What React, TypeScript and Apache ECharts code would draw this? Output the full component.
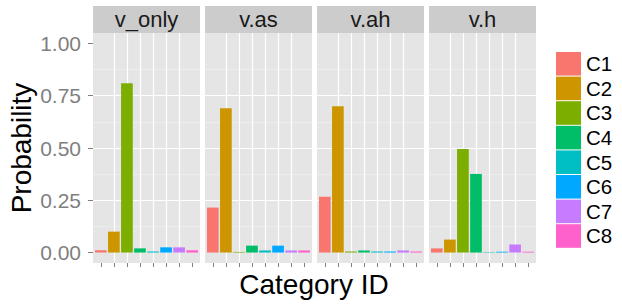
import React, { useEffect, useRef } from 'react';
import * as echarts from 'echarts';

const panels = ['v_only', 'v.as', 'v.ah', 'v.h'];
const categories = ['C1', 'C2', 'C3', 'C4', 'C5', 'C6', 'C7', 'C8'];
const colors = ['#F8766D', '#CD9600', '#7CAE00', '#00BE67', '#00BFC4', '#00A9FF', '#C77CFF', '#FF61CC'];
const vOnly = [0.011, 0.10, 0.81, 0.02, 0.005, 0.025, 0.025, 0.011];
const vAs = [0.215, 0.69, 0.003, 0.033, 0.01, 0.033, 0.01, 0.01];
const vAh = [0.267, 0.70, 0.005, 0.01, 0.005, 0.005, 0.01, 0.005];
const vH = [0.02, 0.062, 0.495, 0.376, 0.002, 0.004, 0.038, 0.004];
const panelValues = [vOnly, vAs, vAh, vH];
const yTicks = [0, 0.25, 0.5, 0.75, 1];
const xTicks = [1, 2, 3, 4, 5, 6, 7, 8];

const FONT = '"Liberation Sans", Arial, Helvetica, sans-serif';
const PANEL_LEFT = 93;
const PANEL_STEP = 112;
const PANEL_W = 107;
const PANEL_TOP = 33;
const PANEL_H = 230;

export default function App() {
  const ref = useRef<HTMLDivElement>(null);
  useEffect(() => {
    if (!ref.current) return;
    const chart = echarts.init(ref.current, null, { renderer: 'svg' });
    const grids = panels.map((_, i) => ({
      left: PANEL_LEFT + i * PANEL_STEP,
      top: PANEL_TOP,
      width: PANEL_W,
      height: PANEL_H,
      show: true,
      backgroundColor: '#E5E5E5',
      borderWidth: 0,
      containLabel: false,
      outerBoundsMode: 'none',
    }));
    const xAxes = panels.map((_, i) => ({
      type: 'value',
      gridIndex: i,
      min: 0.4,
      max: 8.6,
      splitNumber: 8,
      minInterval: 1,
      maxInterval: 1,
      axisLine: { show: false, onZero: false },
      axisLabel: { show: false },
      axisTick: { show: true, customValues: xTicks, length: 4, lineStyle: { color: '#7F7F7F', width: 1 } },
      splitLine: { show: true, showMinLine: false, showMaxLine: false, lineStyle: { color: '#FFFFFF', width: 1.2 } },
    }));
    const yAxes = panels.map((_, i) => ({
      type: 'value',
      gridIndex: i,
      min: -0.05,
      max: 1.05,
      splitNumber: 4,
      minInterval: 0.25,
      maxInterval: 0.25,
      axisLine: { show: false, onZero: false },
      axisTick: { show: i === 0, customValues: yTicks, length: 5, lineStyle: { color: '#7F7F7F', width: 1 } },
      axisLabel: {
        show: i === 0,
        customValues: yTicks,
        formatter: (v: number) => v.toFixed(2),
        color: '#7F7F7F',
        fontSize: 21,
        fontFamily: FONT,
        margin: 12,
      },
      splitLine: { show: true, showMinLine: false, showMaxLine: false, lineStyle: { color: '#FFFFFF', width: 1.2 } },
      minorTick: { show: false, splitNumber: 2 },
      minorSplitLine: { show: true, lineStyle: { color: '#F2F2F2', width: 0.6 } },
      name: i === 0 ? 'Probability' : '',
      nameLocation: 'middle',
      nameGap: 58,
      nameTextStyle: { fontSize: 28, color: '#000000', fontFamily: FONT },
    }));
    const series: any[] = [];
    panelValues.forEach((vals, p) => {
      categories.forEach((cat, k) => {
        series.push({
          type: 'bar',
          name: cat,
          xAxisIndex: p,
          yAxisIndex: p,
          stack: 'panel' + p,
          barWidth: 11.7,
          itemStyle: { color: colors[k] },
          data: [[xTicks[k], vals[k]]],
        });
      });
    });
    const graphic: any[] = [];
    panels.forEach((name, i) => {
      const x0 = PANEL_LEFT + i * PANEL_STEP;
      graphic.push({ type: 'rect', shape: { x: x0, y: 6, width: PANEL_W, height: 27 }, style: { fill: '#CCCCCC' }, silent: true });
      graphic.push({
        type: 'text', x: x0 + PANEL_W / 2, y: 19.5, silent: true,
        style: { text: name, fill: '#1A1A1A', fontSize: 22, fontFamily: FONT, textAlign: 'center', textVerticalAlign: 'middle' },
      });
    });
    graphic.push({
      type: 'text', x: 314, y: 284, silent: true,
      style: { text: 'Category ID', fill: '#000000', fontSize: 28, fontFamily: FONT, textAlign: 'center', textVerticalAlign: 'middle' },
    });
    chart.setOption({
      animation: false,
      backgroundColor: '#FFFFFF',
      textStyle: { fontFamily: FONT },
      grid: grids,
      xAxis: xAxes,
      yAxis: yAxes,
      legend: {
        orient: 'vertical',
        left: 556,
        top: 52,
        padding: 0,
        itemWidth: 25,
        itemHeight: 23.6,
        itemGap: 1,
        icon: 'rect',
        selectedMode: false,
        data: categories,
        textStyle: { fontSize: 20.5, color: '#000000', fontFamily: FONT, lineHeight: 23.6 },
      },
      graphic,
      series,
    });
    return () => chart.dispose();
  }, []);
  return <div ref={ref} style={{ position: 'fixed', left: 0, top: 0, width: 622, height: 305 }} />;
}
